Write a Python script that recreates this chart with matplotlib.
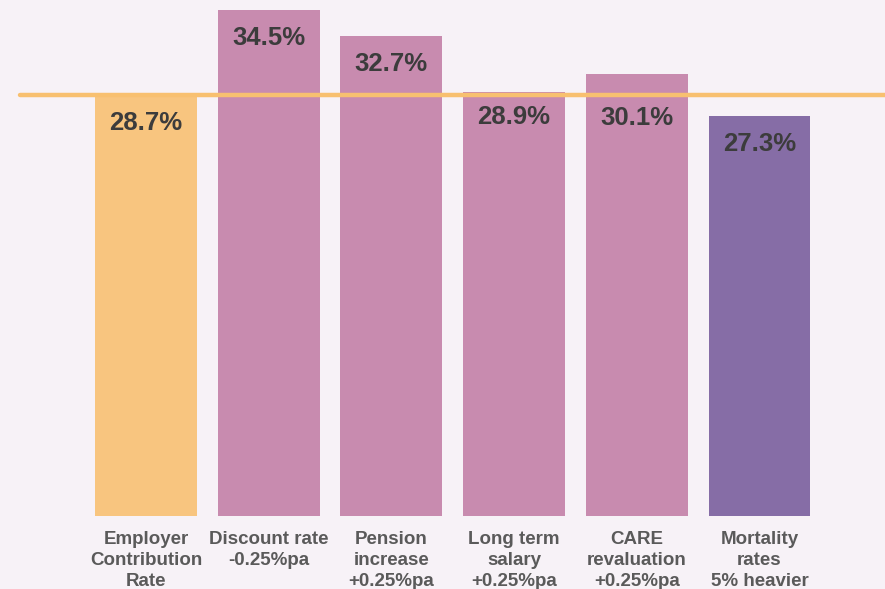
import matplotlib.pyplot as plt

# data
categories = ['Employer\nContribution\nRate', 'Discount rate\n-0.25%pa', 'Pension\nincrease\n+0.25%pa',
              'Long term\nsalary\n+0.25%pa', 'CARE\nrevaluation\n+0.25%pa', 'Mortality\nrates\n5% heavier']
values = [28.7, 34.5, 32.7, 28.9, 30.1, 27.3]
baseline = 28.7

bg = '#f7f2f7'
colors = ['#f8c57f', '#c88baf', '#c88baf', '#c88baf', '#c88baf', '#866da6']
# label drop below bar top (px); the CARE one sits under the line
label_drop = [28, 28, 28, 25, 44, 28]

plt.rcParams['font.family'] = ['Liberation Sans', 'DejaVu Sans']

fig = plt.figure(figsize=(8.85, 5.89), dpi=100, facecolor=bg)
ax = fig.add_axes([0, 73/589, 1, 516/589])
ax.set_facecolor(bg)

x = list(range(len(values)))
ax.bar(x, values, width=0.83, color=colors, zorder=2)
ax.plot([-1.027, 6.5], [baseline, baseline], color='#f8c070', lw=3.2,
        solid_capstyle='round', zorder=3)

for xi, v, d in zip(x, values, label_drop):
    ax.annotate(f'{v}%', (xi, v), xytext=(0, -d*0.72), textcoords='offset points',
                ha='center', va='center', fontsize=18.5, fontweight='bold', color='#3c3c3c', zorder=4)

ax.set_xlim(-146/122.7, (885-146)/122.7)
ax.set_ylim(0, 516/14.67)
ax.set_xticks(x)
ax.set_xticklabels(categories, fontsize=13.5, fontweight='bold', color='#5a5a5a',
                   linespacing=1.3, multialignment='center')
ax.tick_params(axis='x', length=0, pad=11)
ax.set_yticks([])
for s in ax.spines.values():
    s.set_visible(False)

fig.savefig('out.png', dpi=100, facecolor=bg)
